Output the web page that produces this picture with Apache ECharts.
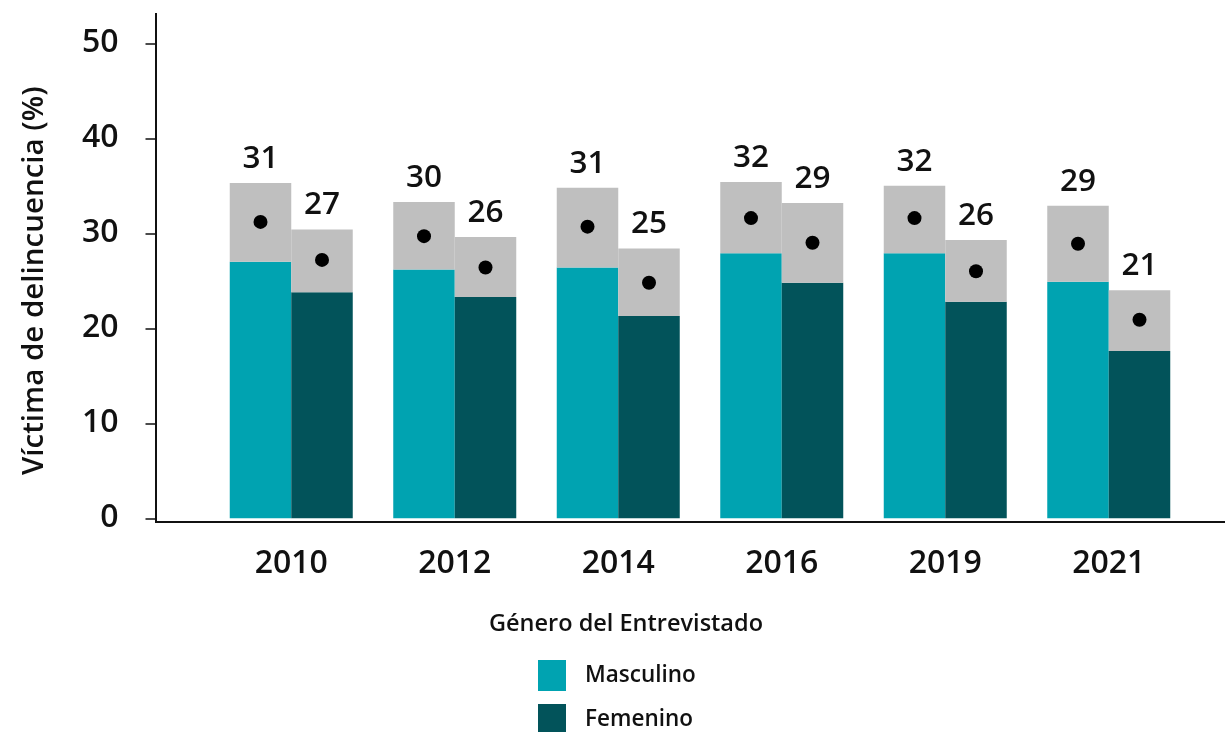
<!DOCTYPE html>
<html>
<head>
<meta charset="utf-8">
<script src="https://cdn.jsdelivr.net/npm/echarts@6/dist/echarts.min.js"></script>
<style>
  html, body { margin: 0; padding: 0; background: #fff; }
  #chart { width: 1225px; height: 732px; }
</style>
</head>
<body>
<div id="chart"></div>
<script>
// datos
var years = ['2010', '2012', '2014', '2016', '2019', '2021'];
var mascEst = [31.2, 29.7, 30.7, 31.6, 31.6, 28.9];
var mascLow = [27.0, 26.2, 26.4, 27.9, 27.9, 24.9];
var mascUp  = [35.3, 33.3, 34.8, 35.4, 35.0, 32.9];
var femEst  = [27.2, 26.4, 24.8, 29.0, 26.0, 20.9];
var femLow  = [23.8, 23.3, 21.3, 24.8, 22.8, 17.6];
var femUp   = [30.4, 29.6, 28.4, 33.2, 29.3, 24.0];
var yTicks  = [0, 10, 20, 30, 40, 50];

var cMasc = '#00a3b1';
var cFem = '#02535a';
var cGris = '#bfbfbf';
var fuente = '"Open Sans", "Noto Sans", sans-serif';
var barW = 61.5;

function rango(up, low) {
  return up.map(function (v, i) { return +(v - low[i]).toFixed(2); });
}

var etiqueta = function (est) {
  return {
    show: true,
    position: 'top',
    distance: 8,
    fontFamily: fuente,
    fontSize: 31.5,
    fontWeight: 600,
    color: '#111',
    formatter: function (p) { return Math.round(est[p.dataIndex]); }
  };
};

var leyenda = function (nombre, top) {
  return {
    data: [nombre],
    orient: 'vertical',
    left: 538,
    top: top,
    padding: 0,
    itemWidth: 28,
    itemHeight: 31,
    icon: 'rect',
    textStyle: { fontFamily: fuente, fontSize: 22.5, fontWeight: 600, color: '#111', padding: [3, 0, 0, 14] }
  };
};

var chart = echarts.init(document.getElementById('chart'));

var option = {
  animation: false,
  backgroundColor: '#fff',
  title: {
    text: 'Género del Entrevistado',
    left: 621,
    textAlign: 'center',
    top: 607,
    textStyle: { fontFamily: fuente, fontSize: 23.5, fontWeight: 600, color: '#111' }
  },
  legend: [leyenda('Masculino', 660), leyenda('Femenino', 704)],
  grid: { left: 209.5, right: 34.5, top: 43.3, bottom: 732 - 518.3 },
  xAxis: {
    type: 'category',
    data: years,
    axisLine: { show: false },
    axisTick: { show: false },
    axisLabel: { margin: 30, fontFamily: fuente, fontSize: 32, fontWeight: 600, color: '#111' }
  },
  yAxis: {
    type: 'value',
    min: 0,
    max: 50,
    interval: 10,
    offset: 53,
    name: 'Víctima de delincuencia (%)',
    nameLocation: 'middle',
    nameGap: 107,
    nameTextStyle: { fontFamily: fuente, fontSize: 29.5, fontWeight: 600, color: '#111', padding: [0, 0, 0, 0] },
    axisLine: { show: false },
    axisTick: { show: true, length: 11, lineStyle: { color: '#111', width: 1.5 } },
    splitLine: { show: false },
    axisLabel: {
      margin: 38,
      fontFamily: fuente, fontSize: 32, fontWeight: 600, color: '#111',
      formatter: function (v) { return yTicks.indexOf(v) >= 0 ? v : ''; }
    }
  },
  graphic: [
    { type: 'line', shape: { x1: 156, y1: 13, x2: 156, y2: 523 }, style: { stroke: '#111', lineWidth: 2 }, z: 10 },
    { type: 'line', shape: { x1: 155, y1: 522, x2: 1225, y2: 522 }, style: { stroke: '#111', lineWidth: 2 }, z: 10 }
  ],
  series: [
    { name: 'Masculino', type: 'bar', stack: 'm', barWidth: barW, barGap: '0%', data: mascLow, itemStyle: { color: cMasc } },
    { name: 'IC Masculino', type: 'bar', stack: 'm', barWidth: barW, data: rango(mascUp, mascLow), itemStyle: { color: cGris }, label: etiqueta(mascEst) },
    { name: 'Femenino', type: 'bar', stack: 'f', barWidth: barW, data: femLow, itemStyle: { color: cFem } },
    { name: 'IC Femenino', type: 'bar', stack: 'f', barWidth: barW, data: rango(femUp, femLow), itemStyle: { color: cGris }, label: etiqueta(femEst) },
    { name: 'Est. Masculino', type: 'scatter', data: mascEst, symbolSize: 14, symbolOffset: [-barW / 2, 0], itemStyle: { color: '#000', opacity: 1 }, z: 5 },
    { name: 'Est. Femenino', type: 'scatter', data: femEst, symbolSize: 14, symbolOffset: [barW / 2, 0], itemStyle: { color: '#000', opacity: 1 }, z: 5 }
  ]
};

chart.setOption(option);
</script>
</body>
</html>
